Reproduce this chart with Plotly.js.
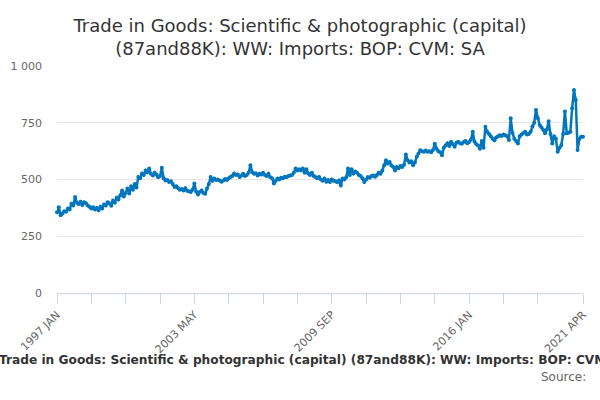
<!DOCTYPE html>
<html>
<head>
<meta charset="utf-8">
<script src="https://cdn.plot.ly/plotly-3.0.1.min.js"></script>
<style>
  html, body { margin: 0; padding: 0; background: #fff; }
  #chart { width: 600px; height: 400px; }
</style>
</head>
<body>
<div id="chart"></div>
<script>
const Plotly = window.Plotly;

// monthly values, 1997 JAN .. 2021 APR
const startYear = 1997;
const monthNames = ["JAN", "FEB", "MAR", "APR", "MAY", "JUN",
                    "JUL", "AUG", "SEP", "OCT", "NOV", "DEC"];

const v1997 = [356, 378, 342, 350, 360, 358, 372, 368, 393, 385, 423, 398];
const v1998 = [392, 402, 388, 400, 395, 385, 380, 372, 378, 368, 375, 364];
const v1999 = [380, 372, 390, 385, 400, 395, 384, 408, 398, 420, 412, 430];
const v2000 = [452, 425, 440, 460, 438, 470, 455, 480, 465, 511, 505, 526];
const v2001 = [520, 540, 532, 548, 525, 518, 530, 522, 510, 515, 552, 505];
const v2002 = [496, 498, 489, 492, 480, 467, 470, 462, 455, 458, 452, 462];
const v2003 = [450, 448, 445, 455, 482, 446, 434, 445, 452, 440, 437, 460];
const v2004 = [480, 511, 495, 504, 498, 500, 496, 490, 496, 502, 498, 505];
const v2005 = [511, 515, 526, 520, 522, 511, 518, 525, 515, 520, 530, 563];
const v2006 = [533, 525, 528, 518, 525, 522, 530, 520, 515, 525, 510, 505];
const v2007 = [482, 495, 504, 500, 508, 506, 512, 510, 515, 518, 520, 530];
const v2008 = [548, 540, 545, 540, 548, 530, 545, 526, 520, 530, 515, 511];
const v2009 = [505, 511, 500, 495, 504, 490, 498, 489, 500, 495, 492, 488];
const v2010 = [496, 474, 504, 500, 510, 548, 520, 545, 526, 535, 530, 520];
const v2011 = [515, 505, 489, 500, 511, 508, 515, 518, 512, 520, 530, 525];
const v2012 = [540, 563, 585, 570, 577, 562, 555, 540, 555, 550, 560, 555];
const v2013 = [565, 610, 585, 575, 580, 563, 575, 600, 615, 629, 625, 622];
const v2014 = [628, 622, 625, 620, 630, 658, 636, 625, 620, 607, 640, 650];
const v2015 = [660, 648, 666, 655, 644, 662, 666, 660, 658, 665, 670, 660];
const v2016 = [665, 675, 710, 666, 655, 650, 636, 670, 640, 732, 710, 700];
const v2017 = [690, 680, 673, 685, 690, 695, 692, 698, 695, 690, 674, 770];
const v2018 = [705, 680, 670, 659, 690, 698, 705, 710, 698, 700, 710, 735];
const v2019 = [750, 806, 770, 740, 730, 718, 704, 720, 757, 700, 659, 690];
const v2020 = [680, 622, 640, 652, 700, 800, 704, 706, 710, 814, 894, 850];
const v2021 = [630, 680, 688, 688];

const values = [].concat(v1997, v1998, v1999, v2000, v2001, v2002, v2003, v2004,
                         v2005, v2006, v2007, v2008, v2009, v2010, v2011, v2012,
                         v2013, v2014, v2015, v2016, v2017, v2018, v2019, v2020, v2021);

const months = values.map((v, i) =>
    `${startYear + Math.floor(i / 12)} ${monthNames[i % 12]}`);

const yTicks = [0, 250, 500, 750, 1000];

// tick marks every 19 months, labels every 76, plus the last month
const last = months.length - 1;
const tickIdx = [];
for (let i = 0; i <= last - 19; i += 19) tickIdx.push(i);
tickIdx.push(last);
const tickvals = tickIdx.map(i => months[i]);
const ticktext = tickIdx.map(i => (i % 76 === 0 || i === last) ? months[i] : "");

const chartTitle = "Trade in Goods: Scientific & photographic (capital)<br>(87and88K): WW: Imports: BOP: CVM: SA";
const footTitle = "Trade in Goods: Scientific & photographic (capital) (87and88K): WW: Imports: BOP: CVM: SA";

const trace = {
    x: months,
    y: values,
    type: "scatter",
    mode: "lines+markers",
    line: { color: "#0076be", width: 2.5 },
    marker: { color: "#0076be", size: 4 },
    cliponaxis: false,
    hoverinfo: "x+y"
};

const layout = {
    width: 600,
    height: 400,
    font: { family: "DejaVu Sans", color: "#666666", size: 11 },
    title: {
        text: chartTitle,
        font: { family: "DejaVu Sans", size: 18, color: "#333333" },
        x: 0.5,
        xanchor: "center",
        yref: "container",
        y: 0.92,
        yanchor: "middle"
    },
    separators: ". ",
    margin: { l: 57, r: 17, t: 66, b: 107 },
    showlegend: false,
    xaxis: {
        type: "category",
        range: [0, last],
        tickmode: "array",
        tickvals: tickvals,
        ticktext: ticktext,
        tickangle: -45,
        ticks: "outside",
        ticklen: 10,
        tickcolor: "#ccd6eb",
        showline: true,
        linecolor: "#ccd6eb",
        linewidth: 1,
        showgrid: false,
        zeroline: false,
        tickfont: { size: 11, color: "#666666" }
    },
    yaxis: {
        range: [0, 1000],
        tickmode: "array",
        tickvals: yTicks,
        separatethousands: true,
        showgrid: true,
        gridcolor: "#e6e6e6",
        zeroline: false,
        ticks: "",
        ticklabelstandoff: 14,
        tickfont: { size: 11, color: "#666666" }
    },
    annotations: [
        {
            // wider than the page, runs off both edges like the original
            text: "<b>" + footTitle + "</b>",
            xref: "paper", yref: "paper",
            x: 0.493, y: -0.295,
            xanchor: "center", yanchor: "middle",
            showarrow: false,
            font: { family: "DejaVu Sans", size: 12.2, color: "#333333" }
        },
        {
            text: "Source:",
            xref: "paper", yref: "paper",
            x: 1.01, y: -0.37,
            xanchor: "right", yanchor: "middle",
            showarrow: false,
            font: { family: "DejaVu Sans", size: 12, color: "#666666" }
        }
    ],
    paper_bgcolor: "#ffffff",
    plot_bgcolor: "#ffffff"
};

Plotly.newPlot("chart", [trace], layout, { displayModeBar: false, staticPlot: true });
</script>
</body>
</html>
